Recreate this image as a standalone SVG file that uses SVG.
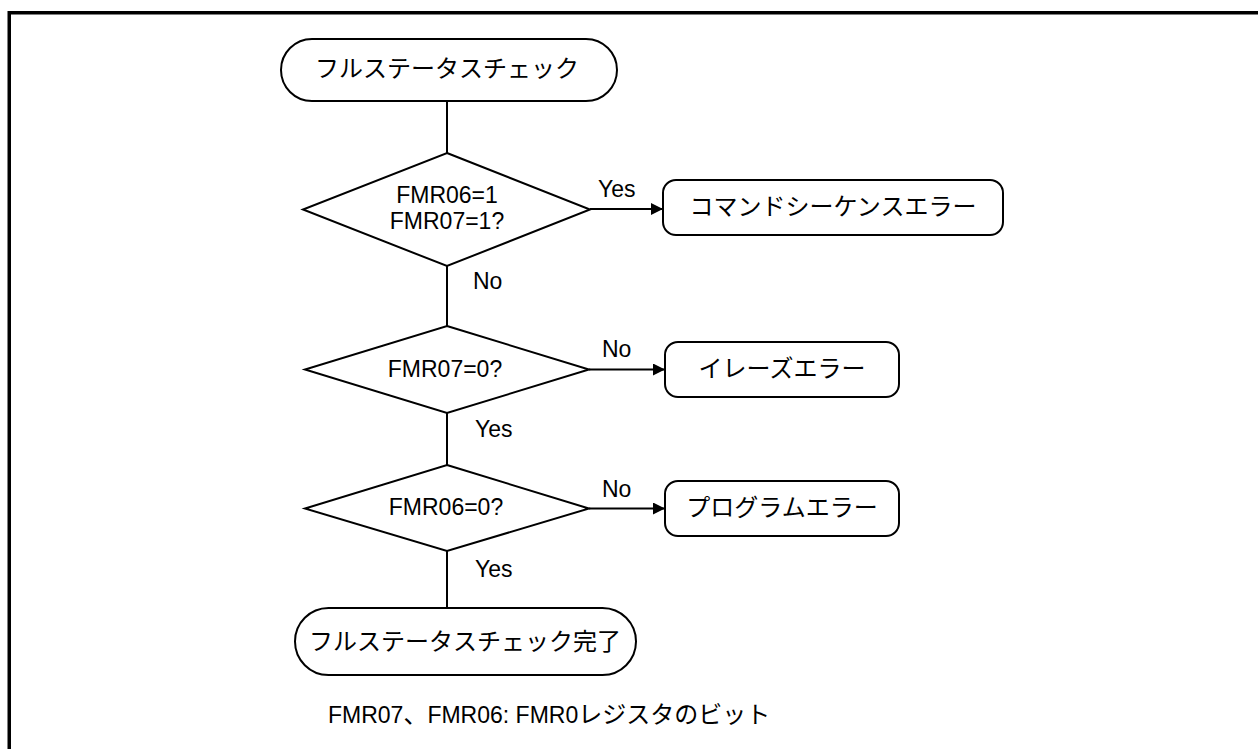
<svg xmlns="http://www.w3.org/2000/svg" width="1258" height="749" viewBox="0 0 1258 749">
<style>
.s{fill:#fff;stroke:#000;stroke-width:2}
.c{fill:none;stroke:#000;stroke-width:2}
text{font-family:"Liberation Sans","Noto Sans CJK JP",sans-serif;font-size:23px;fill:#000}
.j{font-size:24px}
.m{text-anchor:middle}
</style>
<defs>
<marker id="ah" markerWidth="12" markerHeight="12" refX="12" refY="6" orient="auto" markerUnits="userSpaceOnUse"><path d="M0,0 L12,6 L0,12 z" fill="#000"/></marker>
</defs>
<rect width="1258" height="749" fill="#fff"/>
<path d="M9.25,749 V12.75 H1258" fill="none" stroke="#000" stroke-width="3.5"/>
<g id="connectors">
<line class="c" x1="447" y1="101" x2="447" y2="153"/>
<line class="c" x1="447" y1="266" x2="447" y2="326"/>
<line class="c" x1="447" y1="413" x2="447" y2="465"/>
<line class="c" x1="447" y1="551" x2="447" y2="608"/>
<line class="c" x1="590" y1="209" x2="663" y2="209" marker-end="url(#ah)"/>
<line class="c" x1="589" y1="369.5" x2="665" y2="369.5" marker-end="url(#ah)"/>
<line class="c" x1="589" y1="508.5" x2="665" y2="508.5" marker-end="url(#ah)"/>
<text x="598" y="197">Yes</text>
<text x="473" y="289">No</text>
<text x="602" y="357">No</text>
<text x="475" y="437">Yes</text>
<text x="602" y="497">No</text>
<text x="475" y="577">Yes</text>
</g>
<g id="start">
<rect class="s" x="281" y="39" width="336" height="62" rx="31"/>
<text class="j m" x="447" y="77">フルステータスチェック</text>
</g>
<g id="d1">
<polygon class="s" points="447,153 590,209.5 447,266 303,209.5"/>
<text class="m" x="447" y="203">FMR06=1</text>
<text class="m" x="447" y="229">FMR07=1?</text>
</g>
<g id="e1">
<rect class="s" x="663" y="180" width="340" height="55" rx="13"/>
<text class="j m" x="833" y="215">コマンドシーケンスエラー</text>
</g>
<g id="d2">
<polygon class="s" points="447,326 589,369.5 447,413 305,369.5"/>
<text class="m" x="445" y="377">FMR07=0?</text>
</g>
<g id="e2">
<rect class="s" x="665" y="342" width="234" height="55" rx="13"/>
<text class="j m" x="782" y="377">イレーズエラー</text>
</g>
<g id="d3">
<polygon class="s" points="447,465 589,508.5 447,551 305,508.5"/>
<text class="m" x="446" y="515">FMR06=0?</text>
</g>
<g id="e3">
<rect class="s" x="665" y="481" width="234" height="55" rx="13"/>
<text class="j m" x="782" y="516">プログラムエラー</text>
</g>
<g id="end">
<rect class="s" x="295" y="608" width="341" height="67" rx="33.5"/>
<text class="j m" x="465" y="650">フルステータスチェック完了</text>
</g>
<g id="note">
<text x="328" y="723">FMR07<tspan class="j">、</tspan>FMR06: FMR0<tspan class="j">レジスタのビット</tspan></text>
</g>
</svg>
